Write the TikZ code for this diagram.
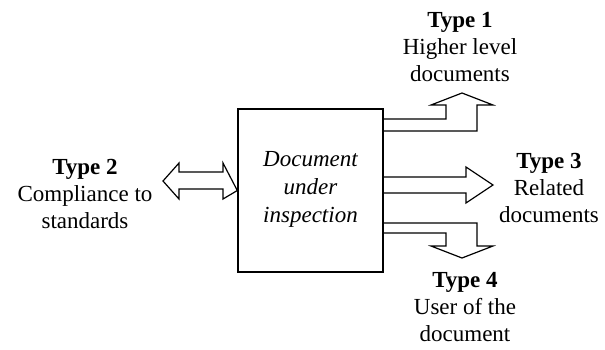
\documentclass[tikz,border=0pt]{standalone}
\usepackage{fontspec}
\setmainfont{Liberation Serif}
\begin{document}
\begin{tikzpicture}[x=1pt,y=-1pt,
  lbl/.style={align=center,anchor=base,inner sep=0pt,
    font=\fontsize{23}{27}\selectfont},
  docbox/.style={draw,line width=1.4pt,minimum width=145pt,minimum height=163pt,
    inner sep=0pt},
  hollow/.style={line width=1.2pt,line join=miter}]
\useasboundingbox (0,0) rectangle (605,349);

% central document (the base anchor of a multi-line node is its last line)
\node[docbox] (box) at (310.5,190.5) {};
\node[lbl,font=\fontsize{23}{28}\selectfont\itshape] (doc) at (310.5,222) {Document\\under\\inspection};

% labels of the four kinds of reference
\node[lbl] (t1) at (460,81) {\textbf{Type 1}\\Higher level\\documents};
\node[lbl] (t2) at (85,228) {\textbf{Type 2}\\Compliance to\\standards};
\node[lbl] (t3) at (549,222) {\textbf{Type 3}\\Related\\documents};
\node[lbl] (t4) at (465,341) {\textbf{Type 4}\\User of the\\document};

% type 2: two-way arrow into the box
\draw[hollow] (box.west) -- (223,163) -- (223,172) -- (179,172) -- (179,163)
  -- (163,181) -- (179,199) -- (179,189) -- (223,189) -- (223,199) -- cycle;

% type 1: arrow leaving the box and bending upwards
\draw[hollow] (383,119) -- (446,119) -- (446,105) -- (431,105) -- (462,93)
  -- (493,105) -- (477,105) -- (477,131) -- (383,131);

% type 3: straight arrow to the right
\draw[hollow] (383,177) -- (466,177) -- (466,167) -- (493,185)
  -- (466,203) -- (466,193) -- (383,193);

% type 4: arrow leaving the box and bending downwards
\draw[hollow] (383,223) -- (477,223) -- (477,246) -- (493,246) -- (462,258)
  -- (431,246) -- (446,246) -- (446,233) -- (383,233);
\end{tikzpicture}
\end{document}
